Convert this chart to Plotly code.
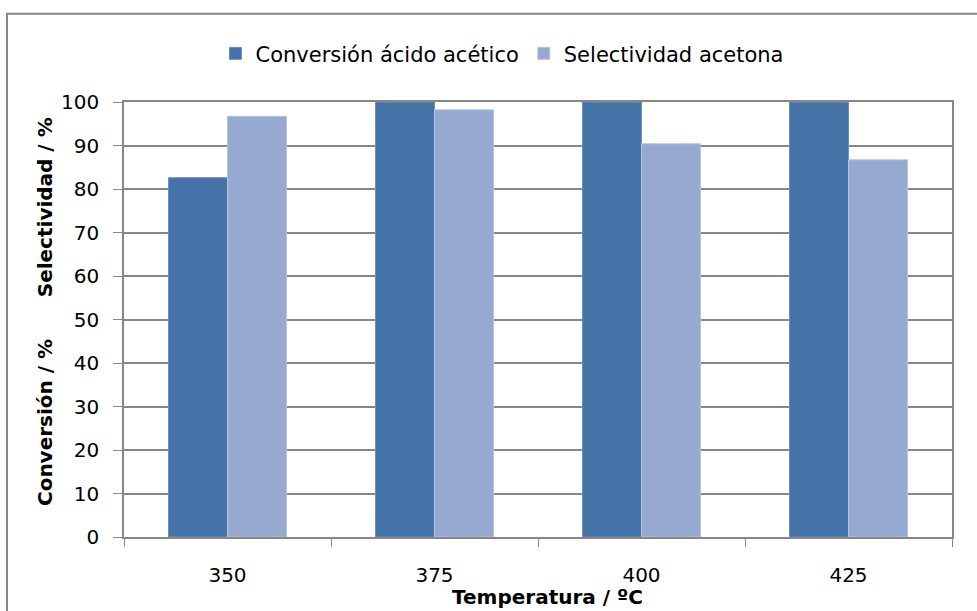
import plotly.graph_objects as go

# Reaction temperature categories (ºC)
temperaturas = ["350", "375", "400", "425"]

# Acetic acid conversion and acetone selectivity (%)
conversion = [82.6, 100.0, 100.0, 100.0]
selectividad = [96.7, 98.2, 90.4, 86.7]

serie_conversion = "Conversión ácido acético"
serie_selectividad = "Selectividad acetona"

color_oscuro = "#4573A7"
color_claro = "#95A9D1"
gris = "#878787"
fuente = "DejaVu Sans"

fig = go.Figure()
fig.add_trace(go.Bar(
    x=temperaturas, y=conversion, name=serie_conversion,
    marker=dict(color=color_oscuro, line=dict(color="#6F8FBC", width=1)),
))
fig.add_trace(go.Bar(
    x=temperaturas, y=selectividad, name=serie_selectividad,
    marker=dict(color=color_claro, line=dict(color="#B4C4E0", width=1)),
))

fig.update_layout(
    width=977, height=611,
    margin=dict(l=124, r=25, t=101.5, b=73.5),
    paper_bgcolor="white", plot_bgcolor="white",
    barmode="group", bargap=0.43, bargroupgap=0,
    font=dict(family=fuente, size=20, color="#000000"),
    showlegend=True,
    legend=dict(
        orientation="h", x=0.4565, xanchor="center", y=1.111, yanchor="middle",
        font=dict(family=fuente, size=21), bgcolor="rgba(0,0,0,0)",
        itemwidth=30, traceorder="normal",
    ),
)

fig.update_xaxes(
    type="category", tickson="boundaries",
    ticks="outside", ticklen=8, tickcolor=gris, tickwidth=1,
    showline=True, linecolor=gris, linewidth=1.5, mirror=True,
    showgrid=False, ticklabelstandoff=19,
    tickfont=dict(family=fuente, size=20),
)
fig.update_yaxes(
    range=[0, 100], dtick=10, tick0=0,
    ticks="outside", ticklen=9, tickcolor=gris, tickwidth=1,
    showline=True, linecolor=gris, linewidth=1.5, mirror=True,
    showgrid=True, gridcolor=gris, gridwidth=1.5,
    zeroline=False, ticklabelstandoff=10,
    tickfont=dict(family=fuente, size=20),
)

# Axis titles
fig.add_annotation(
    text="<b>Temperatura / ºC</b>", xref="paper", yref="paper",
    x=0.512, y=-0.139, xanchor="center", yanchor="middle",
    showarrow=False, font=dict(family=fuente, size=20),
)
fig.add_annotation(
    text="<b>Selectividad / %</b>", xref="paper", yref="paper",
    x=-0.0954, y=0.758, xanchor="center", yanchor="middle", textangle=-90,
    showarrow=False, font=dict(family=fuente, size=20),
)
fig.add_annotation(
    text="<b>Conversión / %</b>", xref="paper", yref="paper",
    x=-0.0954, y=0.262, xanchor="center", yanchor="middle", textangle=-90,
    showarrow=False, font=dict(family=fuente, size=20),
)

# Chart frame
fig.add_shape(
    type="rect", xref="paper", yref="paper",
    x0=-0.1413, x1=1.2, y0=-0.3, y1=1.203,
    line=dict(color=gris, width=2), fillcolor="rgba(0,0,0,0)", layer="below",
)

fig.write_html("out.html")
